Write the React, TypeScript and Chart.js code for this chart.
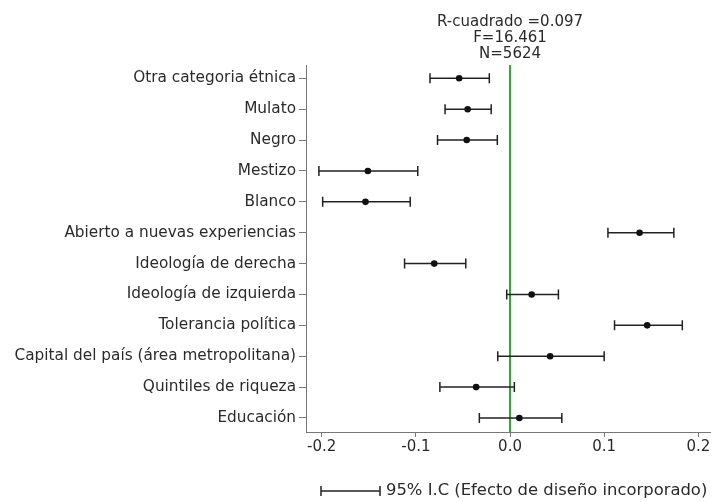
import React, { useEffect, useRef } from "react";
import { Chart, registerables } from "chart.js";

Chart.register(...registerables);

const categories = [
  "Otra categoria étnica",
  "Mulato",
  "Negro",
  "Mestizo",
  "Blanco",
  "Abierto a nuevas experiencias",
  "Ideología de derecha",
  "Ideología de izquierda",
  "Tolerancia política",
  "Capital del país (área metropolitana)",
  "Quintiles de riqueza",
  "Educación",
];
const estimates = [-0.054, -0.045, -0.046, -0.151, -0.1535, 0.1376, -0.0805, 0.023, 0.1457, 0.0426, -0.036, 0.0099];
const lowerCI = [-0.085, -0.069, -0.077, -0.203, -0.199, 0.104, -0.112, -0.0035, 0.111, -0.013, -0.0745, -0.0326];
const upperCI = [-0.022, -0.020, -0.0135, -0.098, -0.106, 0.174, -0.047, 0.0514, 0.183, 0.100, 0.0046, 0.055];
const xTicks = [-0.2, -0.1, 0.0, 0.1, 0.2];
const titleLines = ["R-cuadrado =0.097", "F=16.461", "N=5624"];
const legendLabel = "95% I.C (Efecto de diseño incorporado)";

const FONT = "'DejaVu Sans', sans-serif";
const TEXT = "#2a2a2a";

export default function App() {
  const ref = useRef<HTMLCanvasElement | null>(null);
  useEffect(() => {
    const n = categories.length;
    const yOf = (i: number) => n - i;
    const points = estimates.map((v, i) => ({ x: v, y: yOf(i) }));

    const decor = {
      id: "decor",
      beforeDatasetsDraw(chart: any) {
        const { ctx, chartArea, scales } = chart;
        const xs = scales.x, ys = scales.y;
        ctx.save();
        // zero line
        const x0 = xs.getPixelForValue(0);
        ctx.strokeStyle = "#2fa82f";
        ctx.lineWidth = 2;
        ctx.beginPath();
        ctx.moveTo(x0, chartArea.top);
        ctx.lineTo(x0, chartArea.bottom);
        ctx.stroke();
        // error bars
        ctx.strokeStyle = "#222";
        ctx.lineWidth = 1.5;
        for (let i = 0; i < n; i++) {
          const y = ys.getPixelForValue(yOf(i));
          const a = xs.getPixelForValue(lowerCI[i]);
          const b = xs.getPixelForValue(upperCI[i]);
          ctx.beginPath();
          ctx.moveTo(a, y);
          ctx.lineTo(b, y);
          ctx.moveTo(a, y - 5);
          ctx.lineTo(a, y + 5);
          ctx.moveTo(b, y - 5);
          ctx.lineTo(b, y + 5);
          ctx.stroke();
        }
        ctx.restore();
      },
      afterDraw(chart: any) {
        const { ctx, scales } = chart;
        const xs = scales.x;
        ctx.save();
        ctx.fillStyle = TEXT;
        ctx.font = `15px ${FONT}`;
        ctx.textAlign = "center";
        ctx.textBaseline = "middle";
        const cx = xs.getPixelForValue(0);
        titleLines.forEach((t, i) => ctx.fillText(t, cx, 22 + i * 16));
        // legend
        const ly = 491;
        ctx.strokeStyle = "#222";
        ctx.lineWidth = 1.5;
        ctx.beginPath();
        ctx.moveTo(321, ly);
        ctx.lineTo(380, ly);
        ctx.moveTo(321, ly - 5);
        ctx.lineTo(321, ly + 5);
        ctx.moveTo(380, ly - 5);
        ctx.lineTo(380, ly + 5);
        ctx.stroke();
        ctx.font = `16.4px ${FONT}`;
        ctx.textAlign = "left";
        ctx.fillText(legendLabel, 386, ly);
        ctx.restore();
      },
    };

    const chart = new Chart(ref.current as HTMLCanvasElement, {
      type: "scatter",
      data: {
        datasets: [
          {
            data: points,
            pointRadius: 3.3,
            pointBackgroundColor: "#111",
            pointBorderColor: "#111",
            pointBorderWidth: 0,
          },
        ],
      },
      options: {
        animation: false,
        responsive: false,
        layout: { padding: { top: 65, right: 4, left: 0, bottom: 0 } },
        plugins: { legend: { display: false }, title: { display: false }, tooltip: { enabled: false } },
        scales: {
          x: {
            type: "linear",
            min: -0.2167,
            max: 0.2124,
            afterBuildTicks: (s: any) => {
              s.ticks = xTicks.map((v) => ({ value: v }));
            },
            afterFit: (s: any) => {
              s.height = 70;
            },
            ticks: {
              color: TEXT,
              font: { family: FONT, size: 15 },
              padding: 1,
              callback: (v: any) => Number(v).toFixed(1),
            },
            grid: { display: true, drawOnChartArea: false, tickLength: 5, color: "#777" },
            border: { display: true, color: "#777", width: 1 },
          },
          y: {
            type: "linear",
            min: 0.546,
            max: 12.431,
            afterBuildTicks: (s: any) => {
              s.ticks = categories.map((_, i) => ({ value: yOf(i) }));
            },
            afterFit: (s: any) => {
              s.width = 306;
            },
            ticks: {
              color: TEXT,
              font: { family: FONT, size: 15.3 },
              padding: 3,
              callback: (v: any) => categories[n - Number(v)] ?? "",
            },
            grid: { display: true, drawOnChartArea: false, tickLength: 7, color: "#777" },
            border: { display: true, color: "#777", width: 1 },
          },
        },
      },
      plugins: [decor],
    } as any);
    return () => chart.destroy();
  }, []);

  return (
    <div style={{ position: "fixed", left: 0, top: 0, width: 714, height: 502, background: "#fff" }}>
      <canvas ref={ref} width={714} height={502} />
    </div>
  );
}
